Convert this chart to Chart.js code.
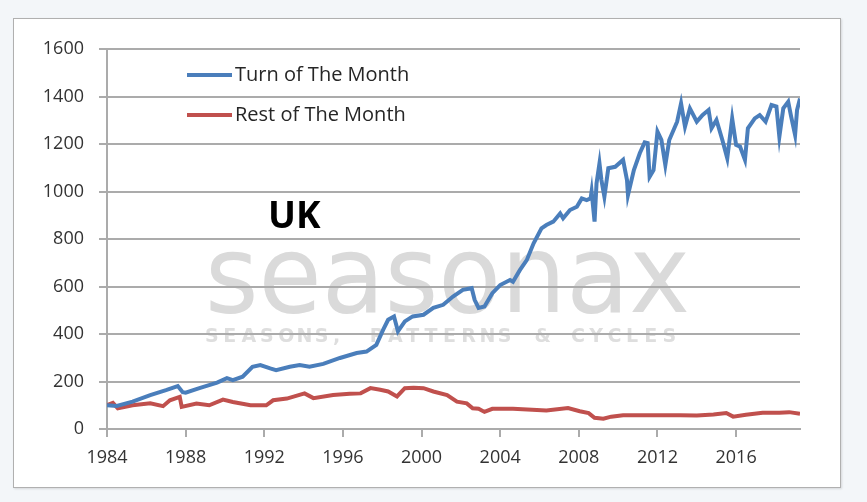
<!DOCTYPE html>
<html>
<head>
<meta charset="utf-8">
<script src="https://cdn.jsdelivr.net/npm/chart.js@4.4.1/dist/chart.umd.min.js"></script>
<style>
  html, body { margin: 0; padding: 0; background: #f3f6f9; }
  #box {
    position: absolute; left: 13px; top: 18px; width: 828px; height: 470px;
    box-sizing: border-box; border: 1px solid #b0b0b0; background: #fff;
    box-shadow: 1px 1px 2px rgba(0,0,0,0.12);
  }
  #wrap { position: absolute; left: 0; top: 0; width: 826px; height: 468px; }
</style>
</head>
<body>
<div id="box"><div id="wrap"><canvas id="chartjs_line"></canvas></div></div>
<script>
'use strict';

var seriesNames = ['Turn of The Month', 'Rest of The Month'];
var chartTitle = 'UK';
var yTicks = [0, 1600, 200];
var xRange = [1984, 2019.25, 4];

var turnYears = [1984.0, 1984.5, 1985.3, 1986.2, 1987.0, 1987.6, 1987.85, 1988.0, 1988.7, 1989.6,
  1990.1, 1990.4, 1990.9, 1991.4, 1991.8, 1992.3, 1992.6, 1993.3, 1993.8, 1994.3,
  1995.0, 1995.85, 1996.7, 1997.2, 1997.7, 1998.05, 1998.3, 1998.6, 1998.8, 1999.15,
  1999.55, 2000.1, 2000.6, 2001.1, 2001.6, 2002.1, 2002.55, 2002.7, 2002.9, 2003.2,
  2003.6, 2004.0, 2004.5, 2004.65, 2005.0, 2005.35, 2005.7, 2006.1, 2006.35, 2006.7,
  2007.05, 2007.2, 2007.55, 2007.9, 2008.15, 2008.4, 2008.6, 2008.65, 2008.8, 2008.9,
  2009.05, 2009.15, 2009.3, 2009.5, 2009.85, 2010.25, 2010.45, 2010.5, 2010.8, 2011.1,
  2011.35, 2011.5, 2011.6, 2011.8, 2012.0, 2012.2, 2012.4, 2012.6, 2013.0, 2013.2,
  2013.4, 2013.65, 2014.0, 2014.3, 2014.6, 2014.75, 2015.0, 2015.3, 2015.55, 2015.8,
  2016.0, 2016.2, 2016.45, 2016.6, 2016.95, 2017.2, 2017.5, 2017.8, 2018.05, 2018.2,
  2018.4, 2018.65, 2018.8, 2019.0, 2019.1, 2019.25];
var turnValues = [100, 97, 115, 143, 164, 181, 155, 153, 172, 195,
  214, 206, 220, 262, 269, 255, 248, 262, 269, 262,
  274, 299, 320, 326, 354, 418, 460, 474, 411, 453,
  474, 481, 510, 523, 558, 586, 593, 544, 510, 516,
  572, 606, 627, 620, 669, 711, 782, 845, 859, 873,
  908, 887, 922, 936, 971, 964, 971, 1000, 873, 1034,
  1119, 1048, 978, 1098, 1104, 1133, 1048, 985, 1090, 1161,
  1207, 1204, 1062, 1090, 1252, 1217, 1111, 1217, 1294, 1371,
  1273, 1350, 1294, 1322, 1343, 1266, 1301, 1217, 1140, 1308,
  1196, 1189, 1133, 1266, 1308, 1322, 1294, 1364, 1358, 1231,
  1350, 1378, 1315, 1238, 1343, 1392];

var restYears = [1984.0, 1984.3, 1984.55, 1985.3, 1986.2, 1986.85, 1987.2, 1987.7, 1987.8, 1988.55,
  1989.2, 1989.9, 1990.4, 1991.3, 1992.1, 1992.45, 1993.15, 1994.05, 1994.5, 1995.5,
  1996.35, 1996.9, 1997.4, 1997.9, 1998.3, 1998.75, 1999.15, 1999.6, 2000.1, 2000.6,
  2001.3, 2001.8, 2002.3, 2002.6, 2002.9, 2003.2, 2003.6, 2004.65, 2006.35, 2007.45,
  2008.05, 2008.5, 2008.8, 2009.25, 2009.65, 2010.25, 2011.95, 2013.15, 2014.0, 2014.85,
  2015.5, 2015.85, 2016.5, 2017.35, 2018.2, 2018.7, 2019.25];
var restValues = [100, 110, 87, 100, 108, 96, 121, 135, 93, 107,
  100, 124, 114, 100, 100, 121, 128, 150, 130, 143,
  148, 150, 172, 165, 158, 137, 172, 174, 172, 158,
  143, 115, 108, 87, 85, 72, 85, 85, 78, 88,
  75, 67, 47, 43, 52, 58, 58, 58, 57, 61,
  67, 52, 60, 68, 68, 71, 64];

var seriesColors = ['#4a7ebb', '#c0504d'];

function toPoints(xs, ys) {
    return xs.map(function (x, i) { return { x: x, y: ys[i] }; });
}

// watermark behind the grid
var watermark = {
    id: 'watermark',
    beforeDraw: function (chart) {
        var ctx = chart.ctx;
        ctx.save();
        ctx.fillStyle = '#dadada';
        ctx.font = '108px "DejaVu Sans"';
        ctx.textBaseline = 'alphabetic';
        ctx.fillText('seasonax', 191, 293, 485);
        ctx.fillStyle = '#dedede';
        ctx.font = 'bold 19px "DejaVu Sans"';
        ctx.textBaseline = 'middle';
        var sub = 'SEASONS, PATTERNS & CYCLES';
        for (var i = 0; i < sub.length; i++) {
            ctx.fillText(sub[i], 191 + i * 18.3, 318);
        }
        ctx.restore();
    }
};

// legend inside plot + UK label
var overlay = {
    id: 'overlay',
    afterDraw: function (chart) {
        var ctx = chart.ctx;
        ctx.save();
        chart.data.datasets.forEach(function (ds, i) {
            var y = 56 + i * 40;
            ctx.strokeStyle = ds.borderColor;
            ctx.lineWidth = 4;
            ctx.beginPath();
            ctx.moveTo(173, y);
            ctx.lineTo(218, y);
            ctx.stroke();
            ctx.fillStyle = '#262626';
            ctx.font = '20px "Open Sans"';
            ctx.textBaseline = 'middle';
            ctx.fillText(ds.label, 221, y);
        });
        ctx.fillStyle = '#000';
        ctx.font = 'bold 37px "Open Sans"';
        ctx.textBaseline = 'alphabetic';
        ctx.fillText(chartTitle, 254, 209);
        ctx.restore();
    }
};

var ctx = document.getElementById('chartjs_line').getContext('2d');
var myLine = new Chart(ctx, {
    type: 'line',
    data: {
        datasets: [{
            label: seriesNames[0],
            data: toPoints(turnYears, turnValues),
            borderColor: seriesColors[0],
            borderWidth: 4,
            pointRadius: 0,
            tension: 0
        }, {
            label: seriesNames[1],
            data: toPoints(restYears, restValues),
            borderColor: seriesColors[1],
            borderWidth: 4,
            pointRadius: 0,
            tension: 0
        }]
    },
    options: {
        responsive: true,
        maintainAspectRatio: false,
        animation: false,
        layout: { padding: { left: 0, right: 40, top: 30, bottom: 0 } },
        plugins: {
            legend: { display: false },
            tooltip: { enabled: false }
        },
        scales: {
            x: {
                type: 'linear',
                min: xRange[0],
                max: xRange[1],
                afterFit: function (s) { s.height = 58; },
                grid: { drawOnChartArea: false, drawTicks: true, tickLength: 8, color: '#ababab', lineWidth: 2 },
                border: { display: true, color: '#ababab', width: 2 },
                ticks: {
                    stepSize: xRange[2],
                    includeBounds: false,
                    maxRotation: 0,
                    padding: 10,
                    color: '#333',
                    font: { family: 'Open Sans', size: 18 },
                    callback: function (v) { return String(v); }
                }
            },
            y: {
                min: yTicks[0],
                max: yTicks[1],
                afterFit: function (s) { s.width = 93; },
                grid: { color: '#ababab', lineWidth: 2, tickLength: 8 },
                border: { display: true, color: '#ababab', width: 2 },
                ticks: {
                    stepSize: yTicks[2],
                    padding: 15,
                    color: '#333',
                    font: { family: 'Open Sans', size: 18 },
                    callback: function (v) { return String(v); }
                }
            }
        }
    },
    plugins: [watermark, overlay]
});
</script>
</body>
</html>
